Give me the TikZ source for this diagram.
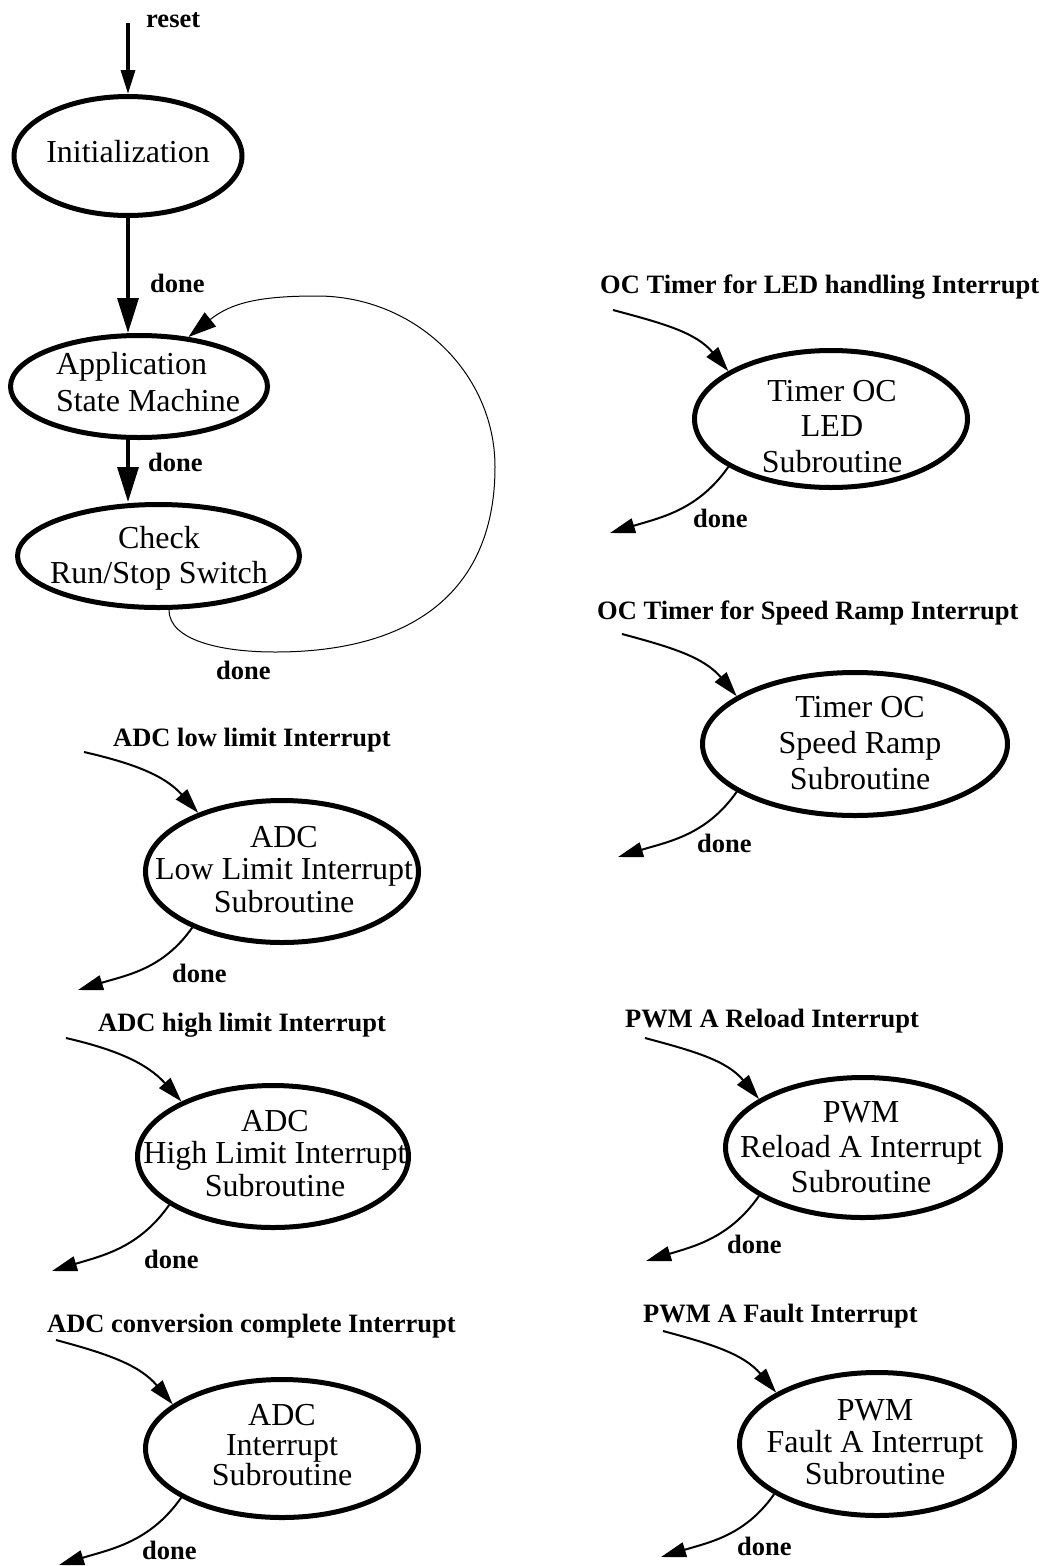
\documentclass[tikz,border=0pt]{standalone}
\usepackage{fontspec}
\setmainfont{Liberation Serif}
\usetikzlibrary{arrows.meta,shapes.geometric}
\begin{document}
\begin{tikzpicture}[x=1pt,y=-1pt,
  state/.style={ellipse, draw, line width=5pt, inner sep=0pt},
  stext/.style={align=center, inner sep=0pt, font=\fontsize{32}{36}\selectfont},
  lbl/.style={anchor=base west, inner sep=0pt, font=\fontsize{26.5}{30}\selectfont\bfseries},
  resetarrow/.style={line width=3.3pt, -{Triangle[length=24pt,width=14pt]}},
  bigarrow/.style={line width=3.3pt, -{Triangle[length=35pt,width=21pt]}},
  intarrow/.style={line width=2pt, -{Triangle[length=25pt,width=15pt]}},
  looparrow/.style={line width=1pt, -{Triangle[length=28pt,width=18pt]}},
]
\useasboundingbox (0,0) rectangle (1049,1566);

% ---- main state machine ----
\node[state, minimum width=228pt, minimum height=119pt] (init) at (128,156) {};
\node[stext] (initT) at (128,152) {Initialization};

\node[state, minimum width=257pt, minimum height=102pt] (app) at (139,386.5) {};
\node[stext, align=left, font=\fontsize{32}{37}\selectfont] (appT) at (148,382.5) {Application\\State Machine};

\node[state, minimum width=282pt, minimum height=103pt] (check) at (158.5,556) {};
\node[stext, font=\fontsize{32}{35}\selectfont] (checkT) at (159,558) {Check\\Run/Stop Switch};

\coordinate (rs) at (128,23);
\draw[resetarrow] (rs) -- (init.north);
\node[lbl] (resetL) at (146,27) {reset};

\draw[bigarrow] (init.south) -- (init.south |- app.north);
\node[lbl] (done1) at (150,292) {done};

\draw[bigarrow] (init.south |- app.south) -- (init.south |- check.north);
\node[lbl] (done2) at (148,471) {done};

\draw[looparrow] (check.-79) .. controls (169,640) and (220,652) .. (275,652)
  .. controls (418,652) and (495,587) .. (495,467)
  .. controls (495,373) and (415,296) .. (317,296)
  .. controls (262,296) and (232,302) .. (app.45);
\node[lbl] (done3) at (216,679) {done};

% ---- Timer OC LED ----
\node[lbl] (ledL) at (600,293) {OC Timer for LED handling Interrupt};
\node[state, minimum width=273pt, minimum height=137pt] (led) at (831,419) {};
\node[stext, font=\fontsize{32}{35.5}\selectfont] (ledT) at (832,426.5) {Timer OC\\LED\\Subroutine};
\coordinate (ledIn) at (613,310);
\coordinate (ledOut) at (610,533);
\draw[intarrow] (ledIn) to[out=-15,in=130] (led.155);
\draw[intarrow] (led.205) to[out=-125,in=17] (ledOut);
\node[lbl] (ledD) at (693,527) {done};

% ---- Timer OC Speed Ramp ----
\node[lbl] (spdL) at (597,619) {OC Timer for Speed Ramp Interrupt};
\node[state, minimum width=305pt, minimum height=143pt] (spd) at (855,744) {};
\node[stext, font=\fontsize{32}{36}\selectfont] (spdT) at (860,743) {Timer OC\\Speed Ramp\\Subroutine};
\coordinate (spdIn) at (622,634);
\coordinate (spdOut) at (618,857);
\draw[intarrow] (spdIn) to[out=-15,in=130] (spd.158);
\draw[intarrow] (spd.202) to[out=-125,in=17] (spdOut);
\node[lbl] (spdD) at (697,852) {done};

% ---- ADC low limit ----
\node[lbl] (lowL) at (113,746) {ADC low limit Interrupt};
\node[state, minimum width=273pt, minimum height=142pt] (low) at (282,871.5) {};
\node[stext, font=\fontsize{32}{32.5}\selectfont] (lowT) at (284,869.5) {ADC\\Low Limit Interrupt\\Subroutine};
\coordinate (lowIn) at (84,752);
\coordinate (lowOut) at (78,990);
\draw[intarrow] (lowIn) to[out=-13,in=132] (low.145);
\draw[intarrow] (low.212) to[out=-125,in=17] (lowOut);
\node[lbl] (lowD) at (172,982) {done};

% ---- ADC high limit ----
\node[lbl] (highL) at (98,1031) {ADC high limit Interrupt};
\node[state, minimum width=271pt, minimum height=142pt] (high) at (273,1156.5) {};
\node[stext, font=\fontsize{32}{32.7}\selectfont] (highT) at (275,1153.5) {ADC\\High Limit Interrupt\\Subroutine};
\coordinate (highIn) at (66,1038);
\coordinate (highOut) at (52,1271);
\draw[intarrow] (highIn) to[out=-13,in=132] (high.149);
\draw[intarrow] (high.205) to[out=-125,in=17] (highOut);
\node[lbl] (highD) at (144,1268) {done};

% ---- ADC conversion complete ----
\node[lbl] (adcL) at (47,1332) {ADC conversion complete Interrupt};
\node[state, minimum width=273pt, minimum height=138pt] (adc) at (282,1448.5) {};
\node[stext, font=\fontsize{32}{30}\selectfont] (adcT) at (282,1445) {ADC\\Interrupt\\Subroutine};
\coordinate (adcIn) at (56,1340);
\coordinate (adcOut) at (59,1565);
\draw[intarrow] (adcIn) to[out=-15,in=130] (adc.158);
\draw[intarrow] (adc.206) to[out=-125,in=17] (adcOut);
\node[lbl] (adcD) at (142,1559) {done};

% ---- PWM Reload A ----
\node[lbl] (relL) at (625,1027) {PWM A Reload Interrupt};
\node[state, minimum width=275pt, minimum height=140pt] (rel) at (863,1147.5) {};
\node[stext, font=\fontsize{32}{35}\selectfont] (relT) at (861,1147) {PWM\\Reload A Interrupt\\Subroutine};
\coordinate (relIn) at (645,1038);
\coordinate (relOut) at (646,1261);
\draw[intarrow] (relIn) to[out=-15,in=130] (rel.155);
\draw[intarrow] (rel.205) to[out=-125,in=17] (relOut);
\node[lbl] (relD) at (727,1253) {done};

% ---- PWM Fault A ----
\node[lbl] (fltL) at (643,1322) {PWM A Fault Interrupt};
\node[state, minimum width=275pt, minimum height=143pt] (flt) at (877,1444) {};
\node[stext, font=\fontsize{32}{32}\selectfont] (fltT) at (875,1442) {PWM\\Fault A Interrupt\\Subroutine};
\coordinate (fltIn) at (663,1331);
\coordinate (fltOut) at (661,1557);
\draw[intarrow] (fltIn) to[out=-15,in=130] (flt.153);
\draw[intarrow] (flt.206) to[out=-125,in=17] (fltOut);
\node[lbl] (fltD) at (737,1555) {done};
\end{tikzpicture}
\end{document}
